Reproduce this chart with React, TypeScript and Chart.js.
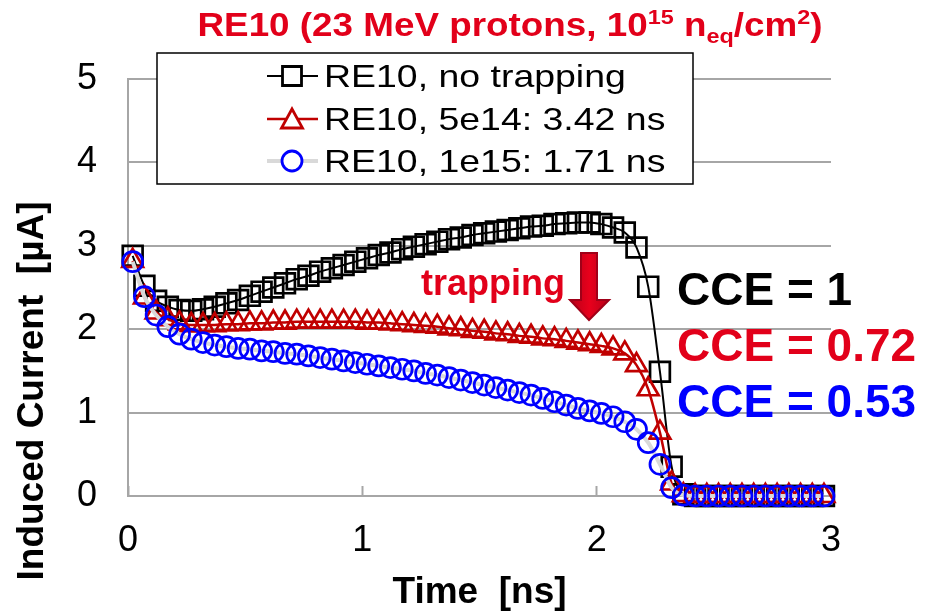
import React, { useEffect, useRef } from "react";
import { Chart, registerables } from "chart.js";

Chart.register(...registerables);

// Simulated induced current for sample RE10 (23 MeV protons, 1e15 neq/cm2)
const timeNs = [
  0.02, 0.07, 0.12, 0.17, 0.22, 0.27, 0.32, 0.37, 0.42, 0.47,
  0.52, 0.57, 0.62, 0.67, 0.72, 0.77, 0.82, 0.87, 0.92, 0.97,
  1.02, 1.07, 1.12, 1.17, 1.22, 1.27, 1.32, 1.37, 1.42, 1.47,
  1.52, 1.57, 1.62, 1.67, 1.72, 1.77, 1.82, 1.87, 1.92, 1.97,
  2.02, 2.07, 2.12, 2.17, 2.22, 2.27, 2.32, 2.37, 2.42, 2.47,
  2.52, 2.57, 2.62, 2.67, 2.72, 2.77, 2.82, 2.87, 2.92, 2.97,
];

const currentNoTrapping = [
  2.88, 2.52, 2.34, 2.27, 2.23, 2.22, 2.24, 2.27, 2.31, 2.35,
  2.40, 2.45, 2.50, 2.55, 2.60, 2.64, 2.69, 2.73, 2.77, 2.81,
  2.85, 2.89, 2.92, 2.96, 2.99, 3.02, 3.05, 3.08, 3.10, 3.13,
  3.15, 3.17, 3.19, 3.21, 3.23, 3.24, 3.26, 3.27, 3.28, 3.28,
  3.26, 3.22, 3.16, 2.98, 2.51, 1.49, 0.35, 0.02, 0, 0,
  0, 0, 0, 0, 0, 0, 0, 0, 0, 0,
];

const current5e14 = [
  2.82, 2.38, 2.20, 2.12, 2.07, 2.05, 2.05, 2.05, 2.06, 2.06,
  2.07, 2.07, 2.08, 2.08, 2.09, 2.09, 2.09, 2.09, 2.09, 2.09,
  2.08, 2.08, 2.07, 2.06, 2.05, 2.04, 2.03, 2.01, 2.00, 1.98,
  1.97, 1.95, 1.94, 1.92, 1.91, 1.89, 1.88, 1.86, 1.84, 1.82,
  1.80, 1.77, 1.71, 1.57, 1.28, 0.76, 0.15, 0.01, 0, 0,
  0, 0, 0, 0, 0, 0, 0, 0, 0, 0,
];

const current1e15 = [
  2.81, 2.39, 2.17, 2.03, 1.94, 1.88, 1.84, 1.81, 1.79, 1.77,
  1.76, 1.74, 1.73, 1.71, 1.70, 1.68, 1.66, 1.64, 1.62, 1.60,
  1.58, 1.56, 1.54, 1.52, 1.50, 1.47, 1.45, 1.42, 1.39, 1.36,
  1.33, 1.30, 1.27, 1.24, 1.21, 1.17, 1.13, 1.09, 1.05, 1.02,
  0.99, 0.95, 0.89, 0.80, 0.64, 0.38, 0.10, 0.01, 0, 0,
  0, 0, 0, 0, 0, 0, 0, 0, 0, 0,
];

const seriesLabels = [
  "RE10, no trapping",
  "RE10, 5e14: 3.42 ns",
  "RE10, 1e15: 1.71 ns",
];

const cceLabels = ["CCE = 1", "CCE = 0.72", "CCE = 0.53"];

const xAxisRange = [0, 3];
const yAxisRange = [0, 5];

const FONT = "'Liberation Sans', Arial, Helvetica, sans-serif";
const RED_TEXT = "#e2001a";
const GRID = "#a6a6a6";

const seriesStyles = [
  { line: "#000000", lineWidth: 2, marker: "#000000", shape: "rect", radius: 14 },
  { line: "#c00000", lineWidth: 2.5, marker: "#c00000", shape: "triangle", radius: 12 },
  { line: "#d9d9d9", lineWidth: 4, marker: "#0000ff", shape: "circle", radius: 10 },
];

function toPoints(values: number[]) {
  return values.map((v, i) => ({ x: timeNs[i], y: v }));
}

function stretchedText(
  ctx: CanvasRenderingContext2D,
  text: string,
  x: number,
  y: number,
  font: string,
  color: string,
  sx = 1
) {
  ctx.save();
  ctx.font = font;
  ctx.fillStyle = color;
  ctx.textBaseline = "alphabetic";
  ctx.textAlign = "left";
  ctx.translate(x, y);
  ctx.scale(sx, 1);
  ctx.fillText(text, 0, 0);
  ctx.restore();
}

function drawMarker(
  ctx: CanvasRenderingContext2D,
  shape: string,
  x: number,
  y: number,
  color: string
) {
  ctx.save();
  ctx.strokeStyle = color;
  ctx.fillStyle = "#ffffff";
  ctx.lineWidth = 2.8;
  ctx.beginPath();
  if (shape === "rect") {
    ctx.rect(x - 9.5, y - 9.5, 19, 19);
  } else if (shape === "triangle") {
    ctx.moveTo(x, y - 10);
    ctx.lineTo(x + 10.5, y + 9);
    ctx.lineTo(x - 10.5, y + 9);
    ctx.closePath();
  } else {
    ctx.arc(x, y, 10, 0, Math.PI * 2);
  }
  ctx.fill();
  ctx.stroke();
  ctx.restore();
}

const overlayPlugin = {
  id: "re10Overlay",
  afterDraw(chart: any) {
    const ctx: CanvasRenderingContext2D = chart.ctx;

    // Title with superscripts / subscript
    const big = `bold 33px ${FONT}`;
    const small = `bold 21px ${FONT}`;
    const parts = [
      { t: "RE10 (23 MeV protons, 10", f: big, dy: 0 },
      { t: "15", f: small, dy: -12 },
      { t: " n", f: big, dy: 0 },
      { t: "eq", f: small, dy: 7 },
      { t: "/cm", f: big, dy: 0 },
      { t: "2", f: small, dy: -12 },
      { t: ")", f: big, dy: 0 },
    ];
    let total = 0;
    for (const p of parts) {
      ctx.font = p.f;
      total += ctx.measureText(p.t).width;
    }
    const sxTitle = 625 / total;
    let tx = 510 - (total * sxTitle) / 2;
    for (const p of parts) {
      stretchedText(ctx, p.t, tx, 36 + p.dy, p.f, RED_TEXT, sxTitle);
      ctx.font = p.f;
      tx += ctx.measureText(p.t).width * sxTitle;
    }

    // Axis titles
    ctx.save();
    ctx.font = `bold 37px ${FONT}`;
    ctx.fillStyle = "#000";
    ctx.textAlign = "center";
    ctx.textBaseline = "alphabetic";
    const area = chart.chartArea;
    ctx.fillText("Time  [ns]", (area.left + area.right) / 2, 603);
    ctx.translate(43, 391);
    ctx.rotate(-Math.PI / 2);
    ctx.fillText("Induced Current  [\u00b5A]", 0, 0);
    ctx.restore();

    // Legend box
    ctx.save();
    ctx.fillStyle = "#ffffff";
    ctx.fillRect(157, 53, 536, 131);
    ctx.strokeStyle = "#000";
    ctx.lineWidth = 1.5;
    ctx.strokeRect(157, 53, 536, 131);
    ctx.restore();
    const rowY = [76, 119, 161];
    const baseY = [87, 130, 172];
    seriesLabels.forEach((label, i) => {
      const st = seriesStyles[i];
      ctx.save();
      ctx.strokeStyle = st.line;
      ctx.lineWidth = st.lineWidth;
      ctx.beginPath();
      ctx.moveTo(267, rowY[i]);
      ctx.lineTo(318, rowY[i]);
      ctx.stroke();
      ctx.restore();
      drawMarker(ctx, st.shape, 292, rowY[i], st.marker);
      stretchedText(ctx, label, 324, baseY[i], `32px ${FONT}`, "#000", 1.17);
    });

    // "trapping" annotation with arrow
    stretchedText(ctx, "trapping", 421, 295, `bold 36px ${FONT}`, RED_TEXT);
    ctx.save();
    const grad = ctx.createLinearGradient(570, 0, 609, 0);
    grad.addColorStop(0, "#b80018");
    grad.addColorStop(0.5, "#e8001c");
    grad.addColorStop(1, "#b80018");
    ctx.fillStyle = grad;
    ctx.strokeStyle = "#a00018";
    ctx.lineWidth = 2;
    ctx.beginPath();
    ctx.moveTo(581, 253);
    ctx.lineTo(597, 253);
    ctx.lineTo(597, 300);
    ctx.lineTo(609, 300);
    ctx.lineTo(589, 320);
    ctx.lineTo(570, 300);
    ctx.lineTo(581, 300);
    ctx.closePath();
    ctx.fill();
    ctx.stroke();
    ctx.restore();

    // Charge collection efficiencies
    const cceColors = ["#000000", RED_TEXT, "#0000ff"];
    const cceBase = [305, 361, 417];
    cceLabels.forEach((t, i) => {
      stretchedText(ctx, t, 677, cceBase[i], `bold 46px ${FONT}`, cceColors[i]);
    });
  },
};

export default function App() {
  const canvasRef = useRef<HTMLCanvasElement | null>(null);

  useEffect(() => {
    const canvas = canvasRef.current;
    if (!canvas) return;

    const datasets = [currentNoTrapping, current5e14, current1e15].map(
      (values, i) => {
        const st = seriesStyles[i];
        return {
          label: seriesLabels[i],
          data: toPoints(values),
          borderColor: st.line,
          borderWidth: st.lineWidth,
          pointStyle: st.shape,
          pointRadius: st.radius,
          pointBorderColor: st.marker,
          pointBackgroundColor: "rgba(0,0,0,0)",
          pointBorderWidth: 2.7,
          cubicInterpolationMode: "monotone" as const,
          clip: false as const,
          order: 3 - i,
        };
      }
    );

    const chart = new Chart(canvas, {
      type: "line",
      data: { datasets },
      options: {
        responsive: false,
        animation: false,
        devicePixelRatio: 1,
        layout: { padding: { top: 79, right: 95, left: 0, bottom: 0 } },
        plugins: {
          legend: { display: false },
          title: { display: false },
          tooltip: { enabled: false },
        },
        scales: {
          x: {
            type: "linear",
            min: xAxisRange[0],
            max: xAxisRange[1],
            ticks: {
              stepSize: 1,
              color: "#000",
              font: { family: FONT, size: 36 },
              padding: 33,
            },
            grid: {
              drawOnChartArea: false,
              tickLength: -10,
              tickColor: GRID,
              tickWidth: 2,
            },
            border: { color: GRID, width: 2 },
            afterFit: (scale: any) => {
              scale.height = 115;
            },
          },
          y: {
            type: "linear",
            min: yAxisRange[0],
            max: yAxisRange[1],
            ticks: {
              stepSize: 1,
              color: "#000",
              font: { family: FONT, size: 36 },
              padding: 31,
            },
            grid: {
              color: GRID,
              lineWidth: 2,
              drawTicks: false,
            },
            border: { color: GRID, width: 2 },
            afterFit: (scale: any) => {
              scale.width = 128;
            },
          },
        },
      },
      plugins: [overlayPlugin],
    });

    return () => chart.destroy();
  }, []);

  return (
    <div style={{ position: "absolute", left: 0, top: 0, width: 926, height: 611, background: "#fff" }}>
      <canvas ref={canvasRef} width={926} height={611} />
    </div>
  );
}
